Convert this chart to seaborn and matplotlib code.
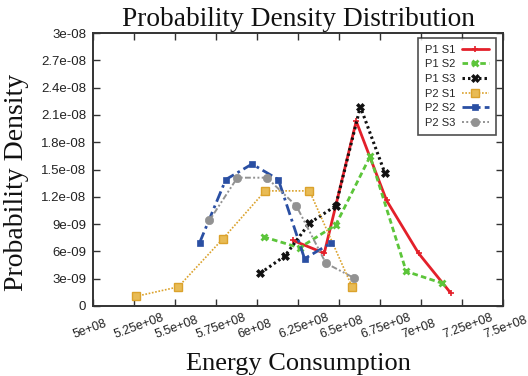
import matplotlib
matplotlib.use("Agg")
import matplotlib.pyplot as plt
import matplotlib.transforms as mtransforms
import seaborn as sns
import pandas as pd

# ---- data ----
series_names = ["P1 S1", "P1 S2", "P1 S3", "P2 S1", "P2 S2", "P2 S3"]

p1s1_x = [6.22e8, 6.41e8, 6.605e8, 6.79e8, 6.985e8, 7.18e8]
p1s1_y = [7.2e-9, 5.8e-9, 2.03e-8, 1.16e-8, 5.8e-9, 1.45e-9]

p1s2_x = [6.04e8, 6.26e8, 6.48e8, 6.69e8, 6.91e8, 7.13e8]
p1s2_y = [7.6e-9, 6.4e-9, 8.9e-9, 1.645e-8, 3.8e-9, 2.5e-9]

p1s3_x = [6.02e8, 6.17e8, 6.32e8, 6.48e8, 6.63e8, 6.78e8]
p1s3_y = [3.6e-9, 5.5e-9, 9.1e-9, 1.1e-8, 2.19e-8, 1.46e-8]

p2s1_x = [5.26e8, 5.52e8, 5.79e8, 6.05e8, 6.32e8, 6.58e8]
p2s1_y = [1.05e-9, 2.1e-9, 7.35e-9, 1.265e-8, 1.265e-8, 2.1e-9]

p2s2_x = [5.65e8, 5.81e8, 5.97e8, 6.13e8, 6.29e8, 6.45e8]
p2s2_y = [6.95e-9, 1.39e-8, 1.56e-8, 1.39e-8, 5.2e-9, 6.9e-9]

p2s3_x = [5.71e8, 5.88e8, 6.06e8, 6.24e8, 6.42e8, 6.59e8]
p2s3_y = [9.4e-9, 1.41e-8, 1.41e-8, 1.1e-8, 4.7e-9, 3.1e-9]

x_ticks = [5e8, 5.25e8, 5.5e8, 5.75e8, 6e8, 6.25e8, 6.5e8, 6.75e8, 7e8, 7.25e8, 7.5e8]
x_tick_labels = ["5e+08", "5.25e+08", "5.5e+08", "5.75e+08", "6e+08", "6.25e+08",
                 "6.5e+08", "6.75e+08", "7e+08", "7.25e+08", "7.5e+08"]
y_ticks = [0, 3e-9, 6e-9, 9e-9, 1.2e-8, 1.5e-8, 1.8e-8, 2.1e-8, 2.4e-8, 2.7e-8, 3e-8]
y_tick_labels = ["0", "3e-09", "6e-09", "9e-09", "1.2e-08", "1.5e-08", "1.8e-08",
                 "2.1e-08", "2.4e-08", "2.7e-08", "3e-08"]

xs = [p1s1_x, p1s2_x, p1s3_x, p2s1_x, p2s2_x, p2s3_x]
ys = [p1s1_y, p1s2_y, p1s3_y, p2s1_y, p2s2_y, p2s3_y]

styles = {
    "P1 S1": dict(color="#e3202a", ls="-", lw=2.0, marker="+", ms=4, mew=1.2),
    "P1 S2": dict(color="#5cc53a", ls=(0, (2.0, 1.2)), lw=2.0, marker="x", ms=5, mew=2.0),
    "P1 S3": dict(color="#111111", ls=(0, (0.8, 1.0)), lw=2.2, marker="X", ms=5.5, mew=0.5),
    "P2 S1": dict(color="#dba22c", ls=(0, (1.0, 1.0)), lw=1.2, marker="s", ms=6, mew=1.0),
    "P2 S2": dict(color="#2a4fa3", ls=(0, (4.0, 1.5, 1.0, 1.5)), lw=2.0, marker="s", ms=4.5, mew=0.5),
    "P2 S3": dict(color="#929292", ls=(0, (1.0, 1.2, 1.0, 1.2, 3.0, 1.2)), lw=1.4, marker="o", ms=6, mew=0.5),
}

sns.set_theme(style="white")
plt.rcParams["font.family"] = ["Liberation Sans", "DejaVu Sans"]

fig = plt.figure(figsize=(5.28, 3.76), dpi=100)
ax = fig.add_axes([93 / 528, 1 - 306 / 376, (503 - 93) / 528, (306 - 33) / 376])

for name, x, y in zip(series_names, xs, ys):
    st = styles[name]
    df = pd.DataFrame({"x": x, "y": y})
    mfc = st["color"]
    if name == "P2 S1":
        mfc = "#e8bb55"
    sns.lineplot(data=df, x="x", y="y", ax=ax, sort=False, label=name,
                 color=st["color"], linestyle=st["ls"], linewidth=st["lw"],
                 marker=st["marker"], markersize=st["ms"], markeredgewidth=st["mew"],
                 markerfacecolor=mfc, markeredgecolor=st["color"])

ax.set_xlim(5e8, 7.5e8)
ax.set_ylim(0, 3e-8)
ax.set_xticks(x_ticks)
ax.set_xticklabels(x_tick_labels, rotation=20, ha="left", va="bottom", rotation_mode="anchor",
                   fontsize=9.0, color="#222222")
ax.set_yticks(y_ticks)
ax.set_yticklabels(y_tick_labels, fontsize=9.5, color="#222222")
ax.tick_params(direction="in", length=5, width=1.0, top=True, right=True,
               bottom=True, left=True, color="#333333")
ax.tick_params(axis="y", pad=5)
ax.tick_params(axis="x", pad=25)
for sp in ax.spines.values():
    sp.set_visible(True)
    sp.set_color("#333333")
    sp.set_linewidth(1.4)

shift = mtransforms.ScaledTranslation(-17 / 100, 0, fig.dpi_scale_trans)
for lab in ax.get_xticklabels():
    lab.set_transform(lab.get_transform() + shift)

serif = ["Liberation Serif", "DejaVu Serif"]
ax.set_title("Probability Density Distribution", family=serif, fontsize=19.7, pad=5, color="#111111")
ax.set_xlabel("Energy Consumption", family=serif, fontsize=19, color="#111111")
ax.set_ylabel("Probability Density", family=serif, fontsize=20, color="#111111")
ax.xaxis.set_label_coords(0.5, (306 - 353) / 273)
ax.yaxis.set_label_coords((29 - 93) / 410, (306 - 182) / 273)

leg = ax.legend(loc="upper right", bbox_to_anchor=((496 - 93) / 410, (306 - 38) / 273),
                borderaxespad=0, frameon=True, fancybox=False,
                edgecolor="#222222", fontsize=8, handlelength=2.5, handletextpad=0.55,
                borderpad=0.6, labelspacing=0.42, markerfirst=False)
leg.get_frame().set_linewidth(1.2)

fig.savefig("out.png", dpi=100)
